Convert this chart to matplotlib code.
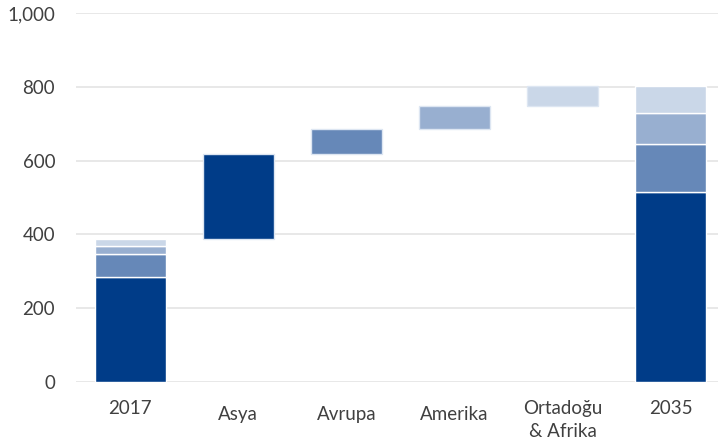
import matplotlib.pyplot as plt
import numpy as np

plt.rcParams['font.family'] = ['Lato', 'DejaVu Sans']

labels = ['2017', 'Asya', 'Avrupa', 'Amerika', 'Ortadoğu\n& Afrika', '2035']
# 2017 breakdown by region (Asya, Avrupa, Amerika, Ortadoğu & Afrika)
start = np.array([285, 62, 22, 19])
# growth to 2035 per region
growth = np.array([229, 68, 64, 53])
end = start + growth

colors = ['#003c88', '#6688b8', '#98afd0', '#cad7e8']

fig = plt.figure(figsize=(7.18, 4.46), dpi=100)
ax = fig.add_axes([76 / 718, 64 / 446, 649 / 718, 369 / 446])

x = np.arange(len(labels))
w = 0.655

# stacked start and end columns
bottom = 0
for i in range(4):
    ax.bar(x[0], start[i], w, bottom=bottom, color=colors[i], edgecolor='white', linewidth=1, zorder=3)
    bottom += start[i]
bottom = 0
for i in range(4):
    ax.bar(x[5], end[i], w, bottom=bottom, color=colors[i], edgecolor='white', linewidth=1, zorder=3)
    bottom += end[i]

# floating steps
base = start.sum()
for i in range(4):
    ax.bar(x[i + 1], growth[i], w, bottom=base, color=colors[i], edgecolor='#dde6f2', linewidth=1, zorder=3)
    base += growth[i]

ax.set_xlim(-0.5, 5.5)
ax.set_ylim(0, 1000)
ax.set_yticks(range(0, 1001, 200))
ax.set_yticklabels([f'{v:,}' for v in range(0, 1001, 200)])
ax.set_xticks(x)
ax.set_xticklabels(labels, linespacing=1.45)
ax.grid(axis='y', color='#e4e4e4', linewidth=1.2, zorder=0)
for s in ax.spines.values():
    s.set_visible(False)
ax.tick_params(axis='both', length=0, labelsize=13.5, labelcolor='#404040')
ax.tick_params(axis='y', pad=15)
ax.tick_params(axis='x', pad=13)
for i, t in enumerate(ax.xaxis.get_major_ticks()):
    if i in (1, 2, 3):
        t.set_pad(17)

fig.savefig('out.png', dpi=100)
